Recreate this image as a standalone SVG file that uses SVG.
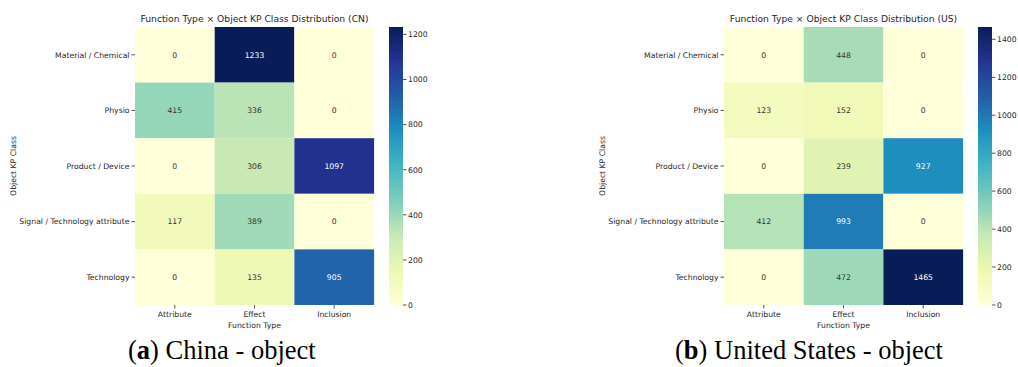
<svg xmlns="http://www.w3.org/2000/svg" width="1018" height="367" viewBox="0 0 1018 367">
  <defs>
    <!-- YlGnBu colour ramp, low values at the bottom -->
    <linearGradient id="ylgnbu" x1="0" y1="1" x2="0" y2="0">
      <stop offset="0" stop-color="#ffffd9"/>
      <stop offset="0.125" stop-color="#edf8b1"/>
      <stop offset="0.25" stop-color="#c7e9b4"/>
      <stop offset="0.375" stop-color="#7fcdbb"/>
      <stop offset="0.5" stop-color="#41b6c4"/>
      <stop offset="0.625" stop-color="#1d91c0"/>
      <stop offset="0.75" stop-color="#225ea8"/>
      <stop offset="0.875" stop-color="#253494"/>
      <stop offset="1" stop-color="#081d58"/>
    </linearGradient>
    <style>
      .t { font-family: "DejaVu Sans", "Liberation Sans", sans-serif; fill: #262626; }
      .title { font-size: 9.2px; text-anchor: middle; }
      .ytick { font-size: 7.7px; text-anchor: end; }
      .xtick { font-size: 7.7px; text-anchor: middle; }
      .cb { font-size: 7.7px; text-anchor: start; }
      .ann { font-size: 7.7px; text-anchor: middle; fill: #333333; }
      .ann.w { fill: #ffffff; }
      .tick { stroke: #262626; stroke-width: 0.8; }
      .cap { font-family: "Liberation Serif", "Times New Roman", serif; font-size: 26.5px; fill: #000; }
    </style>
  </defs>
  <rect width="1018" height="367" fill="#ffffff"/>

  <!-- Panel (a): CN heatmap -->
  <g id="panel-cn">
    <text class="t title" x="254.5" y="22">Function Type × Object KP Class Distribution (CN)</text>
    <g id="cn-cells">
      <rect x="135" y="27" width="79.7" height="55.6" fill="#ffffd9"/>
      <rect x="214.7" y="27" width="79.7" height="55.6" fill="#081d58"/>
      <rect x="294.4" y="27" width="79.7" height="55.6" fill="#ffffd9"/>
      <rect x="135" y="82.6" width="79.7" height="55.6" fill="#95d6b9"/>
      <rect x="214.7" y="82.6" width="79.7" height="55.6" fill="#bae4b5"/>
      <rect x="294.4" y="82.6" width="79.7" height="55.6" fill="#ffffd9"/>
      <rect x="135" y="138.2" width="79.7" height="55.6" fill="#ffffd9"/>
      <rect x="214.7" y="138.2" width="79.7" height="55.6" fill="#c8e9b4"/>
      <rect x="294.4" y="138.2" width="79.7" height="55.6" fill="#22318d"/>
      <rect x="135" y="193.8" width="79.7" height="55.6" fill="#f1fabb"/>
      <rect x="214.7" y="193.8" width="79.7" height="55.6" fill="#a1dab8"/>
      <rect x="294.4" y="193.8" width="79.7" height="55.6" fill="#ffffd9"/>
      <rect x="135" y="249.4" width="79.7" height="55.6" fill="#ffffd9"/>
      <rect x="214.7" y="249.4" width="79.7" height="55.6" fill="#eff9b6"/>
      <rect x="294.4" y="249.4" width="79.7" height="55.6" fill="#2164ab"/>
    </g>
    <g id="cn-values" class="t">
      <text class="ann" x="174.8" y="57.6">0</text>
      <text class="ann w" x="254.5" y="57.6">1233</text>
      <text class="ann" x="334.2" y="57.6">0</text>
      <text class="ann" x="174.8" y="113.2">415</text>
      <text class="ann" x="254.5" y="113.2">336</text>
      <text class="ann" x="334.2" y="113.2">0</text>
      <text class="ann" x="174.8" y="168.8">0</text>
      <text class="ann" x="254.5" y="168.8">306</text>
      <text class="ann w" x="334.2" y="168.8">1097</text>
      <text class="ann" x="174.8" y="224.4">117</text>
      <text class="ann" x="254.5" y="224.4">389</text>
      <text class="ann" x="334.2" y="224.4">0</text>
      <text class="ann" x="174.8" y="280">0</text>
      <text class="ann" x="254.5" y="280">135</text>
      <text class="ann w" x="334.2" y="280">905</text>
    </g>
    <g id="cn-yaxis">
      <path class="tick" d="M131.5 54.8H135M131.5 110.4H135M131.5 166H135M131.5 221.6H135M131.5 277.2H135"/>
      <text class="t ytick" x="129.5" y="57.6">Material / Chemical</text>
      <text class="t ytick" x="129.5" y="113.2">Physio</text>
      <text class="t ytick" x="129.5" y="168.8">Product / Device</text>
      <text class="t ytick" x="129.5" y="224.4">Signal / Technology attribute</text>
      <text class="t ytick" x="129.5" y="280">Technology</text>
      <text class="t xtick" transform="translate(16 166) rotate(-90)">Object KP Class</text>
    </g>
    <g id="cn-xaxis">
      <path class="tick" d="M174.8 305V308.5M254.5 305V308.5M334.2 305V308.5"/>
      <text class="t xtick" x="174.8" y="317">Attribute</text>
      <text class="t xtick" x="254.5" y="317">Effect</text>
      <text class="t xtick" x="334.2" y="317">Inclusion</text>
      <text class="t xtick" x="254.5" y="327.5">Function Type</text>
    </g>
    <g id="cn-colorbar">
      <rect x="389" y="27" width="14" height="278" fill="url(#ylgnbu)"/>
      <path class="tick" d="M403 305H406.5M403 259.9H406.5M403 214.8H406.5M403 169.7H406.5M403 124.6H406.5M403 79.5H406.5M403 34.4H406.5"/>
      <text class="t cb" x="408" y="307.8">0</text>
      <text class="t cb" x="408" y="262.7">200</text>
      <text class="t cb" x="408" y="217.6">400</text>
      <text class="t cb" x="408" y="172.5">600</text>
      <text class="t cb" x="408" y="127.4">800</text>
      <text class="t cb" x="408" y="82.3">1000</text>
      <text class="t cb" x="408" y="37.2">1200</text>
    </g>
  </g>

  <!-- Panel (b): US heatmap -->
  <g id="panel-us" transform="translate(589 0)">
    <text class="t title" x="254.5" y="22">Function Type × Object KP Class Distribution (US)</text>
    <g id="us-cells">
      <rect x="135" y="27" width="79.7" height="55.6" fill="#ffffd9"/>
      <rect x="214.7" y="27" width="79.7" height="55.6" fill="#a7dcb7"/>
      <rect x="294.4" y="27" width="79.7" height="55.6" fill="#ffffd9"/>
      <rect x="135" y="82.6" width="79.7" height="55.6" fill="#f3fabe"/>
      <rect x="214.7" y="82.6" width="79.7" height="55.6" fill="#f0f9b8"/>
      <rect x="294.4" y="82.6" width="79.7" height="55.6" fill="#ffffd9"/>
      <rect x="135" y="138.2" width="79.7" height="55.6" fill="#ffffd9"/>
      <rect x="214.7" y="138.2" width="79.7" height="55.6" fill="#e1f3b2"/>
      <rect x="294.4" y="138.2" width="79.7" height="55.6" fill="#1d8ebe"/>
      <rect x="135" y="193.8" width="79.7" height="55.6" fill="#b5e2b6"/>
      <rect x="214.7" y="193.8" width="79.7" height="55.6" fill="#1f7cb6"/>
      <rect x="294.4" y="193.8" width="79.7" height="55.6" fill="#ffffd9"/>
      <rect x="135" y="249.4" width="79.7" height="55.6" fill="#ffffd9"/>
      <rect x="214.7" y="249.4" width="79.7" height="55.6" fill="#9dd9b8"/>
      <rect x="294.4" y="249.4" width="79.7" height="55.6" fill="#081d58"/>
    </g>
    <g id="us-values" class="t">
      <text class="ann" x="174.8" y="57.6">0</text>
      <text class="ann" x="254.5" y="57.6">448</text>
      <text class="ann" x="334.2" y="57.6">0</text>
      <text class="ann" x="174.8" y="113.2">123</text>
      <text class="ann" x="254.5" y="113.2">152</text>
      <text class="ann" x="334.2" y="113.2">0</text>
      <text class="ann" x="174.8" y="168.8">0</text>
      <text class="ann" x="254.5" y="168.8">239</text>
      <text class="ann w" x="334.2" y="168.8">927</text>
      <text class="ann" x="174.8" y="224.4">412</text>
      <text class="ann w" x="254.5" y="224.4">993</text>
      <text class="ann" x="334.2" y="224.4">0</text>
      <text class="ann" x="174.8" y="280">0</text>
      <text class="ann" x="254.5" y="280">472</text>
      <text class="ann w" x="334.2" y="280">1465</text>
    </g>
    <g id="us-yaxis">
      <path class="tick" d="M131.5 54.8H135M131.5 110.4H135M131.5 166H135M131.5 221.6H135M131.5 277.2H135"/>
      <text class="t ytick" x="129.5" y="57.6">Material / Chemical</text>
      <text class="t ytick" x="129.5" y="113.2">Physio</text>
      <text class="t ytick" x="129.5" y="168.8">Product / Device</text>
      <text class="t ytick" x="129.5" y="224.4">Signal / Technology attribute</text>
      <text class="t ytick" x="129.5" y="280">Technology</text>
      <text class="t xtick" transform="translate(16 166) rotate(-90)">Object KP Class</text>
    </g>
    <g id="us-xaxis">
      <path class="tick" d="M174.8 305V308.5M254.5 305V308.5M334.2 305V308.5"/>
      <text class="t xtick" x="174.8" y="317">Attribute</text>
      <text class="t xtick" x="254.5" y="317">Effect</text>
      <text class="t xtick" x="334.2" y="317">Inclusion</text>
      <text class="t xtick" x="254.5" y="327.5">Function Type</text>
    </g>
    <g id="us-colorbar">
      <rect x="389" y="27" width="14" height="278" fill="url(#ylgnbu)"/>
      <path class="tick" d="M403 305H406.5M403 267H406.5M403 229.1H406.5M403 191.1H406.5M403 153.2H406.5M403 115.2H406.5M403 77.3H406.5M403 39.3H406.5"/>
      <text class="t cb" x="408" y="307.8">0</text>
      <text class="t cb" x="408" y="269.8">200</text>
      <text class="t cb" x="408" y="231.9">400</text>
      <text class="t cb" x="408" y="193.9">600</text>
      <text class="t cb" x="408" y="156">800</text>
      <text class="t cb" x="408" y="118">1000</text>
      <text class="t cb" x="408" y="80.1">1200</text>
      <text class="t cb" x="408" y="42.1">1400</text>
    </g>
  </g>

  <!-- Sub-figure captions -->
  <g id="captions">
    <text class="cap" x="128" y="359">(<tspan font-weight="bold">a</tspan>) China - object</text>
    <text class="cap" x="675" y="359">(<tspan font-weight="bold">b</tspan>) United States - object</text>
  </g>
</svg>
